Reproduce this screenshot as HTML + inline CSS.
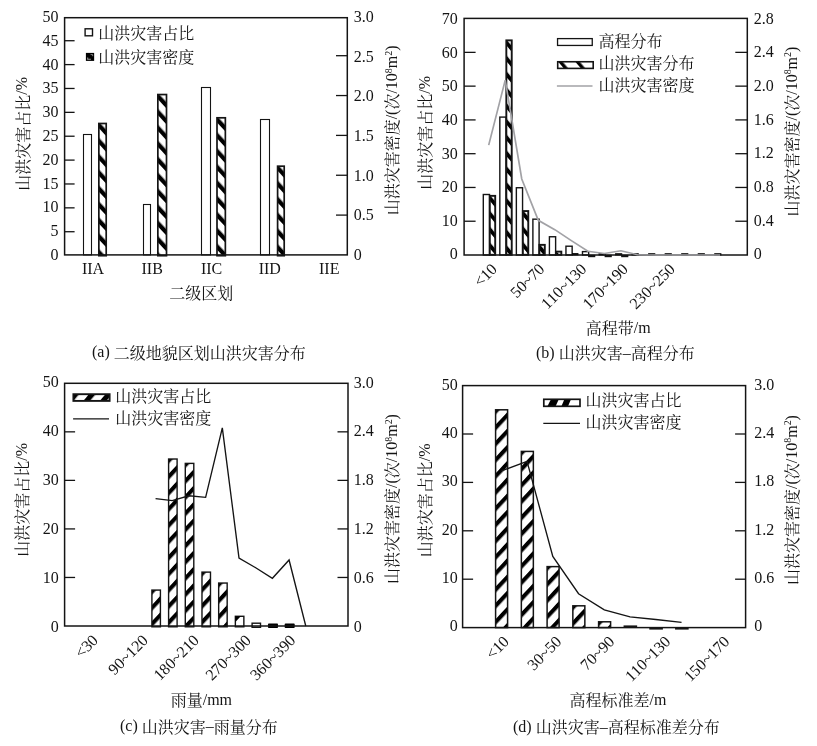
<!DOCTYPE html>
<html lang="zh">
<head>
<meta charset="utf-8">
<title>山洪灾害分布</title>
<style>
html,body{margin:0;padding:0;background:#fff;}
body{width:817px;height:746px;overflow:hidden;font-family:"Liberation Serif","Noto Serif CJK SC",serif;}
svg{display:block;will-change:transform;transform:translateZ(0);}
svg text{font-family:"Liberation Serif","Noto Serif CJK SC",serif;fill:#141414;font-kerning:none;white-space:pre;}
</style>
</head>
<body>
<svg width="817" height="746" viewBox="0 0 817 746">
<defs>
<pattern id="hb" patternUnits="userSpaceOnUse" width="10.84" height="10.84" patternTransform="rotate(-43) translate(-3.17,0)"><rect x="0" y="0" width="4.3" height="10.84" fill="#000"/></pattern>
<pattern id="hb2" patternUnits="userSpaceOnUse" width="10.16" height="10.16" patternTransform="rotate(-40) translate(-3.21,0)"><rect x="0" y="0" width="3.86" height="10.16" fill="#000"/></pattern>
<pattern id="hbl" patternUnits="userSpaceOnUse" width="13.11" height="13.11" patternTransform="rotate(-40) translate(0.39,0)"><rect x="0" y="0" width="3.34" height="13.11" fill="#000"/></pattern>
<pattern id="hf" patternUnits="userSpaceOnUse" width="11.05" height="11.05" patternTransform="rotate(43) translate(-0.89,0)"><rect x="0" y="0" width="4.09" height="11.05" fill="#000"/></pattern>
<pattern id="hfl" patternUnits="userSpaceOnUse" width="12.66" height="12.66" patternTransform="rotate(40) translate(-0.77,0)"><rect x="0" y="0" width="5.14" height="12.66" fill="#000"/></pattern>
</defs>
<rect x="0" y="0" width="817" height="746" fill="#fff"/>
<g id="panel-a">
<rect x="83.5" y="134.5" width="8" height="120.4" fill="#fff" stroke="#141414" stroke-width="1.1"/>
<rect x="143.5" y="204.5" width="7" height="50.4" fill="#fff" stroke="#141414" stroke-width="1.1"/>
<rect x="201.5" y="87.5" width="9" height="167.4" fill="#fff" stroke="#141414" stroke-width="1.1"/>
<rect x="260.5" y="119.5" width="9" height="135.4" fill="#fff" stroke="#141414" stroke-width="1.1"/>
<g transform="translate(98.85,123.49)"><rect x="0" y="0" width="7.35" height="132.21" fill="#fff"/><rect x="0" y="0" width="7.35" height="132.21" fill="url(#hb)" stroke="#141414" stroke-width="1.7"/></g>
<g transform="translate(157.85,94.55)"><rect x="0" y="0" width="8.65" height="161.15" fill="#fff"/><rect x="0" y="0" width="8.65" height="161.15" fill="url(#hb)" stroke="#141414" stroke-width="1.7"/></g>
<g transform="translate(217,117.8)"><rect x="0" y="0" width="8.35" height="137.9" fill="#fff"/><rect x="0" y="0" width="8.35" height="137.9" fill="url(#hb)" stroke="#141414" stroke-width="1.7"/></g>
<g transform="translate(277.6,166.19)"><rect x="0" y="0" width="6.6" height="89.51" fill="#fff"/><rect x="0" y="0" width="6.6" height="89.51" fill="url(#hb)" stroke="#141414" stroke-width="1.7"/></g>
<rect x="64.6" y="17.7" width="282.7" height="237.2" fill="none" stroke="#141414" stroke-width="1.5"/>
<g transform="translate(58.6,260)" aria-label="0"><text x="-8" y="0" font-size="16">0</text></g><line x1="64.6" y1="231.72" x2="74.6" y2="231.72" stroke="#141414" stroke-width="1.3"/><g transform="translate(58.6,236.21)" aria-label="5"><text x="-8" y="0" font-size="16">5</text></g><line x1="64.6" y1="207.85" x2="74.6" y2="207.85" stroke="#141414" stroke-width="1.3"/><g transform="translate(58.6,212.42)" aria-label="10"><text x="-16" y="0" font-size="16">10</text></g><line x1="64.6" y1="183.97" x2="74.6" y2="183.97" stroke="#141414" stroke-width="1.3"/><g transform="translate(58.6,188.63)" aria-label="15"><text x="-16" y="0" font-size="16">15</text></g><line x1="64.6" y1="160.1" x2="74.6" y2="160.1" stroke="#141414" stroke-width="1.3"/><g transform="translate(58.6,164.84)" aria-label="20"><text x="-16" y="0" font-size="16">20</text></g><line x1="64.6" y1="136.22" x2="74.6" y2="136.22" stroke="#141414" stroke-width="1.3"/><g transform="translate(58.6,141.05)" aria-label="25"><text x="-16" y="0" font-size="16">25</text></g><line x1="64.6" y1="112.35" x2="74.6" y2="112.35" stroke="#141414" stroke-width="1.3"/><g transform="translate(58.6,117.26)" aria-label="30"><text x="-16" y="0" font-size="16">30</text></g><line x1="64.6" y1="88.47" x2="74.6" y2="88.47" stroke="#141414" stroke-width="1.3"/><g transform="translate(58.6,93.47)" aria-label="35"><text x="-16" y="0" font-size="16">35</text></g><line x1="64.6" y1="64.6" x2="74.6" y2="64.6" stroke="#141414" stroke-width="1.3"/><g transform="translate(58.6,69.68)" aria-label="40"><text x="-16" y="0" font-size="16">40</text></g><line x1="64.6" y1="40.72" x2="74.6" y2="40.72" stroke="#141414" stroke-width="1.3"/><g transform="translate(58.6,45.89)" aria-label="45"><text x="-16" y="0" font-size="16">45</text></g><g transform="translate(58.6,22.1)" aria-label="50"><text x="-16" y="0" font-size="16">50</text></g>
<g transform="translate(353.7,260)" aria-label="0"><text x="0" y="0" font-size="16">0</text></g><line x1="336" y1="215.1" x2="347.3" y2="215.1" stroke="#141414" stroke-width="1.3"/><g transform="translate(353.7,220.35)" aria-label="0.5"><text x="0" y="0" font-size="16">0.5</text></g><line x1="336" y1="175.25" x2="347.3" y2="175.25" stroke="#141414" stroke-width="1.3"/><g transform="translate(353.7,180.7)" aria-label="1.0"><text x="0" y="0" font-size="16">1.0</text></g><line x1="336" y1="135.4" x2="347.3" y2="135.4" stroke="#141414" stroke-width="1.3"/><g transform="translate(353.7,141.05)" aria-label="1.5"><text x="0" y="0" font-size="16">1.5</text></g><line x1="336" y1="95.55" x2="347.3" y2="95.55" stroke="#141414" stroke-width="1.3"/><g transform="translate(353.7,101.4)" aria-label="2.0"><text x="0" y="0" font-size="16">2.0</text></g><line x1="336" y1="55.7" x2="347.3" y2="55.7" stroke="#141414" stroke-width="1.3"/><g transform="translate(353.7,61.75)" aria-label="2.5"><text x="0" y="0" font-size="16">2.5</text></g><g transform="translate(353.7,22.1)" aria-label="3.0"><text x="0" y="0" font-size="16">3.0</text></g>
<rect x="85.1" y="28.8" width="7.4" height="7" fill="#fff" stroke="#141414" stroke-width="1.4"/>
<g transform="translate(98.3,38)" aria-label="山洪灾害占比"><text x="0" y="1.3" font-size="16">山洪灾害占比</text></g>
<rect x="85.9" y="52.9" width="8.25" height="8" fill="#000"/>
<path d="M87.7 57.4V59.2H90.9" fill="none" stroke="#999" stroke-width="1.1"/>
<path d="M90.6 54.6H92.7V56.2" fill="none" stroke="#bbb" stroke-width="0.7"/>
<g transform="translate(98.3,61.6)" aria-label="山洪灾害密度"><text x="0" y="1.3" font-size="16">山洪灾害密度</text></g>
<g transform="translate(93,273.8)" aria-label="IIA"><text x="-11.11" y="0" font-size="16">IIA</text></g>
<g transform="translate(152.2,273.8)" aria-label="IIB"><text x="-10.66" y="0" font-size="16">IIB</text></g>
<g transform="translate(211.6,273.8)" aria-label="IIC"><text x="-10.66" y="0" font-size="16">IIC</text></g>
<g transform="translate(269.8,273.8)" aria-label="IID"><text x="-11.11" y="0" font-size="16">IID</text></g>
<g transform="translate(329.2,273.8)" aria-label="IIE"><text x="-10.21" y="0" font-size="16">IIE</text></g>
<g transform="translate(201.3,297.8)" aria-label="二级区划"><text x="-32" y="1.3" font-size="16">二级区划</text></g>
<g transform="translate(27.3,133.9) rotate(-90)" aria-label="山洪灾害占比/%"><text x="-56.89" y="1.3" font-size="16">山洪灾害占比</text><text x="39.11" y="0" font-size="16">/%</text></g>
<g transform="translate(397,130.4) rotate(-90)" aria-label="山洪灾害密度/(次/108m2)"><text x="-84.96" y="1.3" font-size="16">山洪灾害密度</text><text x="11.04" y="0" font-size="16">/(</text><text x="20.82" y="1.3" font-size="16">次</text><text x="36.82" y="0" font-size="16">/10</text><text x="57.26" y="-5.44" font-size="9.92">8</text><text x="62.22" y="0" font-size="16">m</text><text x="74.67" y="-5.44" font-size="9.92">2</text><text x="79.63" y="0" font-size="16">)</text></g>
<g transform="translate(92,357.2)" aria-label="(a) 二级地貌区划山洪灾害分布"><text x="0" y="0" font-size="16">(a) </text><text x="21.76" y="1.3" font-size="16">二级地貌区划山洪灾害分布</text></g>
</g>
<g id="panel-b">
<rect x="483.3" y="194.5" width="6.2" height="60.5" fill="#fff" stroke="#141414" stroke-width="1.4"/>
<g transform="translate(489.8,195.85)"><rect x="0" y="0" width="5.4" height="58.95" fill="#fff"/><rect x="0" y="0" width="5.4" height="58.95" fill="url(#hb2)" stroke="#141414" stroke-width="1.9"/></g>
<rect x="499.83" y="117.1" width="6.2" height="137.9" fill="#fff" stroke="#141414" stroke-width="1.4"/>
<g transform="translate(506.33,40.37)"><rect x="0" y="0" width="5.4" height="214.43" fill="#fff"/><rect x="0" y="0" width="5.4" height="214.43" fill="url(#hb2)" stroke="#141414" stroke-width="1.9"/></g>
<rect x="516.36" y="187.74" width="6.2" height="67.26" fill="#fff" stroke="#141414" stroke-width="1.4"/>
<g transform="translate(522.86,211.06)"><rect x="0" y="0" width="5.4" height="43.74" fill="#fff"/><rect x="0" y="0" width="5.4" height="43.74" fill="url(#hb2)" stroke="#141414" stroke-width="1.9"/></g>
<rect x="532.89" y="219.17" width="6.2" height="35.83" fill="#fff" stroke="#141414" stroke-width="1.4"/>
<g transform="translate(539.39,244.86)"><rect x="0" y="0" width="5.4" height="9.94" fill="#fff"/><rect x="0" y="0" width="5.4" height="9.94" fill="url(#hb2)" stroke="#141414" stroke-width="1.9"/></g>
<rect x="549.42" y="236.75" width="6.2" height="18.25" fill="#fff" stroke="#141414" stroke-width="1.4"/>
<g transform="translate(555.92,251.62)"><rect x="0" y="0" width="5.4" height="3.18" fill="#fff"/><rect x="0" y="0" width="5.4" height="3.18" fill="url(#hb2)" stroke="#141414" stroke-width="1.9"/></g>
<rect x="565.95" y="246.21" width="6.2" height="8.79" fill="#fff" stroke="#141414" stroke-width="1.4"/>
<rect x="572.05" y="253.1" width="6.4" height="2.3" fill="#000"/>
<rect x="582.48" y="251.62" width="6.2" height="3.38" fill="#fff" stroke="#141414" stroke-width="1.4"/>
<line x1="588.08" y1="256" x2="595.28" y2="256" stroke="#141414" stroke-width="2.4"/>
<rect x="599.01" y="253.7" width="6.2" height="1.3" fill="#000" stroke="#141414" stroke-width="1"/>
<line x1="604.61" y1="256" x2="611.81" y2="256" stroke="#141414" stroke-width="2.4"/>
<rect x="615.54" y="253.7" width="6.2" height="1.3" fill="#000" stroke="#141414" stroke-width="1"/>
<line x1="621.14" y1="256" x2="628.34" y2="256" stroke="#141414" stroke-width="2.4"/>
<rect x="632.07" y="253.7" width="6.2" height="1.3" fill="#000" stroke="#141414" stroke-width="1"/>
<rect x="648.6" y="253.7" width="6.2" height="1.3" fill="#000" stroke="#141414" stroke-width="1"/>
<rect x="665.13" y="253.7" width="6.2" height="1.3" fill="#000" stroke="#141414" stroke-width="1"/>
<rect x="681.66" y="253.7" width="6.2" height="1.3" fill="#000" stroke="#141414" stroke-width="1"/>
<rect x="698.19" y="253.7" width="6.2" height="1.3" fill="#000" stroke="#141414" stroke-width="1"/>
<rect x="714.72" y="253.7" width="6.2" height="1.3" fill="#000" stroke="#141414" stroke-width="1"/>
<rect x="464.1" y="18.4" width="283.2" height="236.6" fill="none" stroke="#141414" stroke-width="1.5"/>
<g transform="translate(457.8,259.4)" aria-label="0"><text x="-8" y="0" font-size="16">0</text></g><line x1="464.1" y1="221.23" x2="475.6" y2="221.23" stroke="#141414" stroke-width="1.3"/><g transform="translate(457.8,225.79)" aria-label="10"><text x="-16" y="0" font-size="16">10</text></g><line x1="464.1" y1="187.46" x2="475.6" y2="187.46" stroke="#141414" stroke-width="1.3"/><g transform="translate(457.8,192.17)" aria-label="20"><text x="-16" y="0" font-size="16">20</text></g><line x1="464.1" y1="153.69" x2="475.6" y2="153.69" stroke="#141414" stroke-width="1.3"/><g transform="translate(457.8,158.56)" aria-label="30"><text x="-16" y="0" font-size="16">30</text></g><line x1="464.1" y1="119.91" x2="475.6" y2="119.91" stroke="#141414" stroke-width="1.3"/><g transform="translate(457.8,124.94)" aria-label="40"><text x="-16" y="0" font-size="16">40</text></g><line x1="464.1" y1="86.14" x2="475.6" y2="86.14" stroke="#141414" stroke-width="1.3"/><g transform="translate(457.8,91.33)" aria-label="50"><text x="-16" y="0" font-size="16">50</text></g><line x1="464.1" y1="52.37" x2="475.6" y2="52.37" stroke="#141414" stroke-width="1.3"/><g transform="translate(457.8,57.71)" aria-label="60"><text x="-16" y="0" font-size="16">60</text></g><g transform="translate(457.8,24.1)" aria-label="70"><text x="-16" y="0" font-size="16">70</text></g>
<g transform="translate(753.8,259.4)" aria-label="0"><text x="0" y="0" font-size="16">0</text></g><line x1="735.3" y1="221.23" x2="747.3" y2="221.23" stroke="#141414" stroke-width="1.3"/><g transform="translate(753.8,225.74)" aria-label="0.4"><text x="0" y="0" font-size="16">0.4</text></g><line x1="735.3" y1="187.46" x2="747.3" y2="187.46" stroke="#141414" stroke-width="1.3"/><g transform="translate(753.8,192.09)" aria-label="0.8"><text x="0" y="0" font-size="16">0.8</text></g><line x1="735.3" y1="153.69" x2="747.3" y2="153.69" stroke="#141414" stroke-width="1.3"/><g transform="translate(753.8,158.43)" aria-label="1.2"><text x="0" y="0" font-size="16">1.2</text></g><line x1="735.3" y1="119.91" x2="747.3" y2="119.91" stroke="#141414" stroke-width="1.3"/><g transform="translate(753.8,124.77)" aria-label="1.6"><text x="0" y="0" font-size="16">1.6</text></g><line x1="735.3" y1="86.14" x2="747.3" y2="86.14" stroke="#141414" stroke-width="1.3"/><g transform="translate(753.8,91.11)" aria-label="2.0"><text x="0" y="0" font-size="16">2.0</text></g><line x1="735.3" y1="52.37" x2="747.3" y2="52.37" stroke="#141414" stroke-width="1.3"/><g transform="translate(753.8,57.46)" aria-label="2.4"><text x="0" y="0" font-size="16">2.4</text></g><g transform="translate(753.8,23.8)" aria-label="2.8"><text x="0" y="0" font-size="16">2.8</text></g>
<polyline fill="none" stroke="#a2a2a6" stroke-width="1.7" stroke-linejoin="miter" points="488.7,145.15 505.23,80.09 521.76,178.95 538.29,220.36 554.82,229.65 571.35,240.63 587.88,251.28 604.41,253.48 620.94,250.78 637.47,254.75 654,255 670.53,255 687.06,255 703.59,255 720.12,255"/>
<rect x="557.55" y="38.6" width="34.7" height="6.85" fill="#fff" stroke="#141414" stroke-width="1.3"/>
<g transform="translate(598.4,45.6)" aria-label="高程分布"><text x="0" y="1.3" font-size="16">高程分布</text></g>
<g transform="translate(557.7,61.75)"><rect x="0" y="0" width="35.5" height="6.65" fill="#fff"/><rect x="0" y="0" width="35.5" height="6.65" fill="url(#hbl)" stroke="#141414" stroke-width="1.6"/></g>
<g transform="translate(598.4,67.8)" aria-label="山洪灾害分布"><text x="0" y="1.3" font-size="16">山洪灾害分布</text></g>
<line x1="556.9" y1="86" x2="592.5" y2="86" stroke="#a2a2a6" stroke-width="1.7"/>
<g transform="translate(598.4,89.8)" aria-label="山洪灾害密度"><text x="0" y="1.3" font-size="16">山洪灾害密度</text></g>
<g transform="translate(498,270) rotate(-45)" aria-label="&lt;10"><text x="-25.02" y="0" font-size="16">&lt;10</text></g>
<g transform="translate(545.5,270) rotate(-45)" aria-label="50~70"><text x="-40.66" y="0" font-size="16">50~70</text></g>
<g transform="translate(587.5,270) rotate(-45)" aria-label="110~130"><text x="-56.66" y="0" font-size="16">110~130</text></g>
<g transform="translate(629,270) rotate(-45)" aria-label="170~190"><text x="-56.66" y="0" font-size="16">170~190</text></g>
<g transform="translate(676,270) rotate(-45)" aria-label="230~250"><text x="-56.66" y="0" font-size="16">230~250</text></g>
<g transform="translate(618.2,333)" aria-label="高程带/m"><text x="-32.45" y="1.3" font-size="16">高程带</text><text x="15.55" y="0" font-size="16">/m</text></g>
<g transform="translate(429.6,132.9) rotate(-90)" aria-label="山洪灾害占比/%"><text x="-56.89" y="1.3" font-size="16">山洪灾害占比</text><text x="39.11" y="0" font-size="16">/%</text></g>
<g transform="translate(796.6,131.6) rotate(-90)" aria-label="山洪灾害密度/(次/108m2)"><text x="-84.96" y="1.3" font-size="16">山洪灾害密度</text><text x="11.04" y="0" font-size="16">/(</text><text x="20.82" y="1.3" font-size="16">次</text><text x="36.82" y="0" font-size="16">/10</text><text x="57.26" y="-5.44" font-size="9.92">8</text><text x="62.22" y="0" font-size="16">m</text><text x="74.67" y="-5.44" font-size="9.92">2</text><text x="79.63" y="0" font-size="16">)</text></g>
<g transform="translate(536,357.8)" aria-label="(b) 山洪灾害–高程分布"><text x="0" y="0" font-size="16">(b) </text><text x="22.66" y="1.3" font-size="16">山洪灾害</text><text x="86.66" y="0" font-size="16">–</text><text x="94.66" y="1.3" font-size="16">高程分布</text></g>
</g>
<g id="panel-c">
<g transform="translate(151.91,590.08)"><rect x="0" y="0" width="8.5" height="36.72" fill="#fff"/><rect x="0" y="0" width="8.5" height="36.72" fill="url(#hf)" stroke="#141414" stroke-width="1.4"/></g>
<g transform="translate(168.6,459.02)"><rect x="0" y="0" width="8.5" height="167.78" fill="#fff"/><rect x="0" y="0" width="8.5" height="167.78" fill="url(#hf)" stroke="#141414" stroke-width="1.4"/></g>
<g transform="translate(185.29,463.39)"><rect x="0" y="0" width="8.5" height="163.41" fill="#fff"/><rect x="0" y="0" width="8.5" height="163.41" fill="url(#hf)" stroke="#141414" stroke-width="1.4"/></g>
<g transform="translate(201.98,572.12)"><rect x="0" y="0" width="8.5" height="54.68" fill="#fff"/><rect x="0" y="0" width="8.5" height="54.68" fill="url(#hf)" stroke="#141414" stroke-width="1.4"/></g>
<g transform="translate(218.67,583.04)"><rect x="0" y="0" width="8.5" height="43.76" fill="#fff"/><rect x="0" y="0" width="8.5" height="43.76" fill="url(#hf)" stroke="#141414" stroke-width="1.4"/></g>
<rect x="235.36" y="616.29" width="8.5" height="10.51" fill="#fff" stroke="#141414" stroke-width="1.4"/>
<polygon points="235.36,616.29 240.81,616.29 235.36,622.09" fill="#000"/>
<rect x="252.1" y="623.2" width="8.4" height="4.1" fill="#fff" stroke="#141414" stroke-width="1.4"/>
<rect x="267.99" y="623.6" width="10.0" height="4.4" rx="0.8" fill="#000"/>
<rect x="284.68" y="623.6" width="10.0" height="4.4" rx="0.8" fill="#000"/>
<rect x="64.6" y="383.3" width="283.4" height="242.7" fill="none" stroke="#141414" stroke-width="1.5"/>
<g transform="translate(58.8,631.7)" aria-label="0"><text x="-8" y="0" font-size="16">0</text></g><line x1="64.6" y1="577.46" x2="75.1" y2="577.46" stroke="#141414" stroke-width="1.3"/><g transform="translate(58.8,582.8)" aria-label="10"><text x="-16" y="0" font-size="16">10</text></g><line x1="64.6" y1="528.92" x2="75.1" y2="528.92" stroke="#141414" stroke-width="1.3"/><g transform="translate(58.8,533.9)" aria-label="20"><text x="-16" y="0" font-size="16">20</text></g><line x1="64.6" y1="480.38" x2="75.1" y2="480.38" stroke="#141414" stroke-width="1.3"/><g transform="translate(58.8,485)" aria-label="30"><text x="-16" y="0" font-size="16">30</text></g><line x1="64.6" y1="431.84" x2="75.1" y2="431.84" stroke="#141414" stroke-width="1.3"/><g transform="translate(58.8,436.1)" aria-label="40"><text x="-16" y="0" font-size="16">40</text></g><g transform="translate(58.8,387.2)" aria-label="50"><text x="-16" y="0" font-size="16">50</text></g>
<g transform="translate(353.7,631.6)" aria-label="0"><text x="0" y="0" font-size="16">0</text></g><line x1="337.5" y1="577.46" x2="348" y2="577.46" stroke="#141414" stroke-width="1.3"/><g transform="translate(353.7,582.78)" aria-label="0.6"><text x="0" y="0" font-size="16">0.6</text></g><line x1="337.5" y1="528.92" x2="348" y2="528.92" stroke="#141414" stroke-width="1.3"/><g transform="translate(353.7,533.96)" aria-label="1.2"><text x="0" y="0" font-size="16">1.2</text></g><line x1="337.5" y1="480.38" x2="348" y2="480.38" stroke="#141414" stroke-width="1.3"/><g transform="translate(353.7,485.14)" aria-label="1.8"><text x="0" y="0" font-size="16">1.8</text></g><line x1="337.5" y1="431.84" x2="348" y2="431.84" stroke="#141414" stroke-width="1.3"/><g transform="translate(353.7,436.32)" aria-label="2.4"><text x="0" y="0" font-size="16">2.4</text></g><g transform="translate(353.7,387.5)" aria-label="3.0"><text x="0" y="0" font-size="16">3.0</text></g>
<polyline fill="none" stroke="#141414" stroke-width="1.35" stroke-linejoin="miter" points="155.56,498.66 172.25,500.61 188.94,495.75 205.63,497.37 222.32,427.79 239.01,558.04 255.7,567.75 272.39,578.27 289.08,559.99 305.77,626"/>
<g transform="translate(73.4,394.2)"><rect x="0" y="0" width="36.2" height="6.7" fill="#fff"/><rect x="0" y="0" width="36.2" height="6.7" fill="url(#hfl)" stroke="#141414" stroke-width="1.9"/></g>
<g transform="translate(115.3,401.1)" aria-label="山洪灾害占比"><text x="0" y="1.3" font-size="16">山洪灾害占比</text></g>
<line x1="73.1" y1="418.8" x2="109" y2="418.8" stroke="#141414" stroke-width="1.35"/>
<g transform="translate(115.3,422.3)" aria-label="山洪灾害密度"><text x="0" y="1.3" font-size="16">山洪灾害密度</text></g>
<g transform="translate(99,641.3) rotate(-45)" aria-label="&lt;30"><text x="-25.02" y="0" font-size="16">&lt;30</text></g>
<g transform="translate(149,641.3) rotate(-45)" aria-label="90~120"><text x="-48.66" y="0" font-size="16">90~120</text></g>
<g transform="translate(200,641.3) rotate(-45)" aria-label="180~210"><text x="-56.66" y="0" font-size="16">180~210</text></g>
<g transform="translate(252,641.3) rotate(-45)" aria-label="270~300"><text x="-56.66" y="0" font-size="16">270~300</text></g>
<g transform="translate(296.5,641.3) rotate(-45)" aria-label="360~390"><text x="-56.66" y="0" font-size="16">360~390</text></g>
<g transform="translate(201.4,704.5)" aria-label="雨量/mm"><text x="-30.67" y="1.3" font-size="16">雨量</text><text x="1.33" y="0" font-size="16">/mm</text></g>
<g transform="translate(26.5,499.8) rotate(-90)" aria-label="山洪灾害占比/%"><text x="-56.89" y="1.3" font-size="16">山洪灾害占比</text><text x="39.11" y="0" font-size="16">/%</text></g>
<g transform="translate(397,499) rotate(-90)" aria-label="山洪灾害密度/(次/108m2)"><text x="-84.96" y="1.3" font-size="16">山洪灾害密度</text><text x="11.04" y="0" font-size="16">/(</text><text x="20.82" y="1.3" font-size="16">次</text><text x="36.82" y="0" font-size="16">/10</text><text x="57.26" y="-5.44" font-size="9.92">8</text><text x="62.22" y="0" font-size="16">m</text><text x="74.67" y="-5.44" font-size="9.92">2</text><text x="79.63" y="0" font-size="16">)</text></g>
<g transform="translate(120,731.3)" aria-label="(c) 山洪灾害–雨量分布"><text x="0" y="0" font-size="16">(c) </text><text x="21.76" y="1.3" font-size="16">山洪灾害</text><text x="85.76" y="0" font-size="16">–</text><text x="93.76" y="1.3" font-size="16">雨量分布</text></g>
</g>
<g id="panel-d">
<g transform="translate(495.6,409.8)"><rect x="0" y="0" width="12" height="217.8" fill="#fff"/><rect x="0" y="0" width="12" height="217.8" fill="url(#hf)" stroke="#141414" stroke-width="1.5"/></g>
<g transform="translate(521.35,451.42)"><rect x="0" y="0" width="12" height="176.18" fill="#fff"/><rect x="0" y="0" width="12" height="176.18" fill="url(#hf)" stroke="#141414" stroke-width="1.5"/></g>
<g transform="translate(547.1,566.62)"><rect x="0" y="0" width="12" height="60.98" fill="#fff"/><rect x="0" y="0" width="12" height="60.98" fill="url(#hf)" stroke="#141414" stroke-width="1.5"/></g>
<g transform="translate(572.85,605.82)"><rect x="0" y="0" width="12" height="21.78" fill="#fff"/><rect x="0" y="0" width="12" height="21.78" fill="url(#hf)" stroke="#141414" stroke-width="1.5"/></g>
<g transform="translate(598.6,621.79)"><rect x="0" y="0" width="12" height="5.81" fill="#fff"/><rect x="0" y="0" width="12" height="5.81" fill="url(#hf)" stroke="#141414" stroke-width="1.5"/></g>
<line x1="623.55" y1="626.4" x2="637.15" y2="626.4" stroke="#141414" stroke-width="2"/>
<line x1="649.3" y1="628.4" x2="662.9" y2="628.4" stroke="#141414" stroke-width="2.4"/>
<line x1="675.05" y1="628.4" x2="688.65" y2="628.4" stroke="#141414" stroke-width="2.4"/>
<rect x="462.6" y="385.6" width="283" height="242" fill="none" stroke="#141414" stroke-width="1.5"/>
<g transform="translate(457.8,631.4)" aria-label="0"><text x="-8" y="0" font-size="16">0</text></g><line x1="462.6" y1="579.2" x2="473.1" y2="579.2" stroke="#141414" stroke-width="1.3"/><g transform="translate(457.8,583.08)" aria-label="10"><text x="-16" y="0" font-size="16">10</text></g><line x1="462.6" y1="530.8" x2="473.1" y2="530.8" stroke="#141414" stroke-width="1.3"/><g transform="translate(457.8,534.76)" aria-label="20"><text x="-16" y="0" font-size="16">20</text></g><line x1="462.6" y1="482.4" x2="473.1" y2="482.4" stroke="#141414" stroke-width="1.3"/><g transform="translate(457.8,486.44)" aria-label="30"><text x="-16" y="0" font-size="16">30</text></g><line x1="462.6" y1="434" x2="473.1" y2="434" stroke="#141414" stroke-width="1.3"/><g transform="translate(457.8,438.12)" aria-label="40"><text x="-16" y="0" font-size="16">40</text></g><g transform="translate(457.8,389.8)" aria-label="50"><text x="-16" y="0" font-size="16">50</text></g>
<g transform="translate(754.2,631.4)" aria-label="0"><text x="0" y="0" font-size="16">0</text></g><line x1="735.1" y1="579.2" x2="745.6" y2="579.2" stroke="#141414" stroke-width="1.3"/><g transform="translate(754.2,583.08)" aria-label="0.6"><text x="0" y="0" font-size="16">0.6</text></g><line x1="735.1" y1="530.8" x2="745.6" y2="530.8" stroke="#141414" stroke-width="1.3"/><g transform="translate(754.2,534.76)" aria-label="1.2"><text x="0" y="0" font-size="16">1.2</text></g><line x1="735.1" y1="482.4" x2="745.6" y2="482.4" stroke="#141414" stroke-width="1.3"/><g transform="translate(754.2,486.44)" aria-label="1.8"><text x="0" y="0" font-size="16">1.8</text></g><line x1="735.1" y1="434" x2="745.6" y2="434" stroke="#141414" stroke-width="1.3"/><g transform="translate(754.2,438.12)" aria-label="2.4"><text x="0" y="0" font-size="16">2.4</text></g><g transform="translate(754.2,389.8)" aria-label="3.0"><text x="0" y="0" font-size="16">3.0</text></g>
<polyline fill="none" stroke="#141414" stroke-width="1.35" stroke-linejoin="miter" points="501.3,470.86 527.05,461.43 552.8,556.37 578.55,593.72 604.3,609.85 630.05,616.87 655.8,619.53 681.55,622.36"/>
<rect x="543.8" y="399.3" width="36.2" height="7.0" fill="#fff"/>
<polygon points="551.0,399.3 558.8,399.3 555.6,406.3 547.4,406.3" fill="#000"/>
<polygon points="564.4,399.3 571.0,399.3 568.0,406.3 561.4,406.3" fill="#000"/>
<rect x="543.8" y="399.3" width="36.2" height="7.0" fill="none" stroke="#141414" stroke-width="1.7"/>
<g transform="translate(585.5,404.9)" aria-label="山洪灾害占比"><text x="0" y="1.3" font-size="16">山洪灾害占比</text></g>
<line x1="543.3" y1="423.3" x2="580" y2="423.3" stroke="#141414" stroke-width="1.35"/>
<g transform="translate(585.5,426.3)" aria-label="山洪灾害密度"><text x="0" y="1.3" font-size="16">山洪灾害密度</text></g>
<g transform="translate(510,642.5) rotate(-45)" aria-label="&lt;10"><text x="-25.02" y="0" font-size="16">&lt;10</text></g>
<g transform="translate(562.5,642.5) rotate(-45)" aria-label="30~50"><text x="-40.66" y="0" font-size="16">30~50</text></g>
<g transform="translate(615.5,642.5) rotate(-45)" aria-label="70~90"><text x="-40.66" y="0" font-size="16">70~90</text></g>
<g transform="translate(671.5,642.5) rotate(-45)" aria-label="110~130"><text x="-56.66" y="0" font-size="16">110~130</text></g>
<g transform="translate(730.5,642.5) rotate(-45)" aria-label="150~170"><text x="-56.66" y="0" font-size="16">150~170</text></g>
<g transform="translate(618,704.5)" aria-label="高程标准差/m"><text x="-48.45" y="1.3" font-size="16">高程标准差</text><text x="31.55" y="0" font-size="16">/m</text></g>
<g transform="translate(429.5,500.3) rotate(-90)" aria-label="山洪灾害占比/%"><text x="-56.89" y="1.3" font-size="16">山洪灾害占比</text><text x="39.11" y="0" font-size="16">/%</text></g>
<g transform="translate(796.6,500) rotate(-90)" aria-label="山洪灾害密度/(次/108m2)"><text x="-84.96" y="1.3" font-size="16">山洪灾害密度</text><text x="11.04" y="0" font-size="16">/(</text><text x="20.82" y="1.3" font-size="16">次</text><text x="36.82" y="0" font-size="16">/10</text><text x="57.26" y="-5.44" font-size="9.92">8</text><text x="62.22" y="0" font-size="16">m</text><text x="74.67" y="-5.44" font-size="9.92">2</text><text x="79.63" y="0" font-size="16">)</text></g>
<g transform="translate(513,731.6)" aria-label="(d) 山洪灾害–高程标准差分布"><text x="0" y="0" font-size="16">(d) </text><text x="22.66" y="1.3" font-size="16">山洪灾害</text><text x="86.66" y="0" font-size="16">–</text><text x="94.66" y="1.3" font-size="16">高程标准差分布</text></g>
</g>
</svg>
</body>
</html>
